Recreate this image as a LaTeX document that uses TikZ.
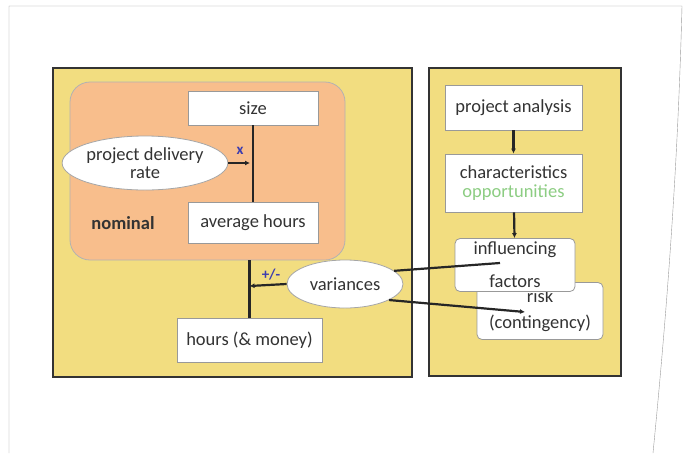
\documentclass[tikz,border=0pt]{standalone}
\usepackage{fontspec}
\setmainfont{Carlito}
\usepackage{xcolor}
\definecolor{panelyellow}{RGB}{242,221,128}
\definecolor{nompeach}{RGB}{248,190,140}
\definecolor{oppgreen}{RGB}{140,205,130}
\definecolor{signblue}{RGB}{60,60,175}
\usetikzlibrary{positioning,arrows.meta,shapes}

\begin{document}
\begin{tikzpicture}
		[x=1pt,y=-1pt,
		every node/.style={font=\fontsize{18.5}{19}\selectfont,align=center,text=black!80},
		panel/.style={draw=black!80,line width=2.8pt,fill=panelyellow},
		whitebox/.style={draw=gray!80,thick,fill=white,inner sep=1pt},
		roundbox/.style={whitebox,rounded corners=5pt},
		bubble/.style={draw=gray!70,thick,fill=white,ellipse,inner sep=0pt},
		link/.style={draw=black!85,line width=2.2pt},
		flow/.style={link,-{Latex[length=5pt,width=5pt]}}]
		\useasboundingbox (0,0) rectangle (684,453);
		% page edge
		\draw[gray!80,thin] (9,453) -- (9,6) -- (682,6)
			.. controls (678,160) and (668,300) .. (653,453);
		% left panel
		\draw[panel] (53,68) rectangle (412,377);
		\node[draw=gray!60,thick,fill=nompeach,rounded corners=20pt,minimum width=275pt,minimum height=178pt] (nomrect) at (207.5,171) {};
		\node[whitebox,minimum width=130pt,minimum height=34pt] (size) at (253,108) {size};
		\node[whitebox,minimum width=130pt,minimum height=41pt] (avg) at (253,222.5) {average hours};
		\node[bubble,minimum width=144pt,minimum height=54pt,font=\fontsize{18.5}{18}\selectfont] (pdr) at (145,163) {project delivery\\rate};
		\node[font=\fontsize{18.5}{19}\selectfont\bfseries] (nominal) at (123,223) {nominal};
		\node[whitebox,minimum width=145pt,minimum height=44pt] (hours) at (249.5,340) {hours (\& money)};
		\node[bubble,minimum width=116pt,minimum height=48pt] (var) at (345,284) {variances};
		\coordinate (xjoin) at (250,163);
		\coordinate (pmjoin) at (249.5,286);
		\draw[link] (size) -- (avg);
		\draw[flow] (pdr.east) -- (xjoin);
		\node[text=signblue,font=\fontsize{15}{15}\selectfont\bfseries] (xlabel) at (240,151) {x};
		\draw[link] (nomrect.south -| hours.north) -- (hours.north);
		\draw[flow] (var.west) -- (pmjoin);
		\node[text=signblue,font=\fontsize{15}{15}\selectfont\bfseries] (pmlabel) at (271,275) {+/-};
		% right panel
		\draw[panel] (429,68) rectangle (621,376);
		\node[whitebox,minimum width=137pt,minimum height=45pt] (analysis) at (513.5,107.5) {project analysis};
		\node[whitebox,minimum width=137pt,minimum height=58pt] (chars) at (513.5,183) {characteristics\\{\color{oppgreen}opportunities}};
		\node[roundbox,minimum width=126pt,minimum height=57pt,font=\fontsize{18.5}{26}\selectfont] (risk) at (540,311) {risk\\(contingency)};
		\node[roundbox,minimum width=120pt,minimum height=53pt,font=\fontsize{18.5}{33}\selectfont] (infl) at (515,265) {influencing\\factors};
		\draw[flow] (analysis) -- (chars);
		\draw[flow] (chars) -- (infl);
		% variances to factors
		\coordinate (inflend) at (500,263);
		\coordinate (riskend) at (525,312);
		\draw[link] (var.15) -- (inflend);
		\draw[flow] (var.-20) -- (riskend);
	\end{tikzpicture}
\end{document}
